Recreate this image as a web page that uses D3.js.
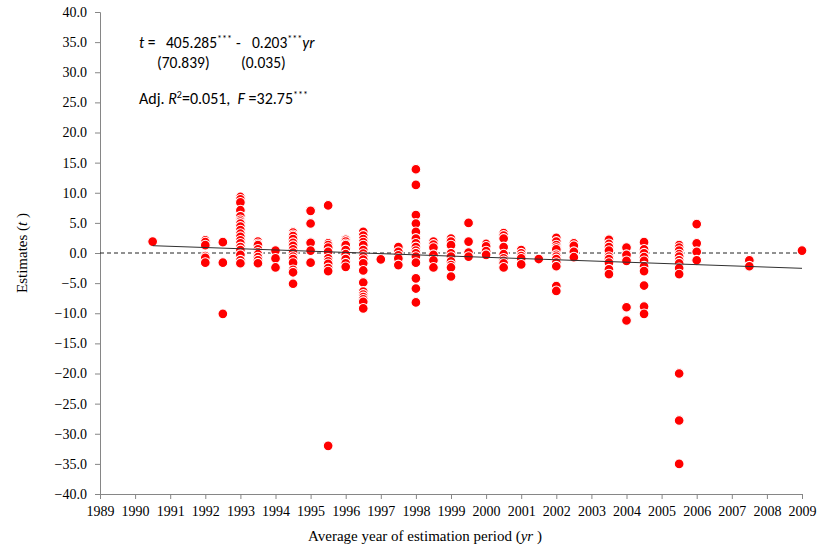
<!DOCTYPE html>
<html>
<head>
<meta charset="utf-8">
<script src="https://cdn.jsdelivr.net/npm/d3@7"></script>
<style>
  html, body { margin: 0; padding: 0; background: #fff; }
  svg { display: block; }
  .note text { white-space: pre; }
</style>
</head>
<body>
<svg id="chart" width="818" height="553"></svg>
<script>
// Estimates grouped by average year of the estimation period
const years = [1990.5, 1992, 1992.5, 1993, 1993.5, 1994, 1994.5, 1995, 1995.5, 1996,
  1996.5, 1997, 1997.5, 1998, 1998.5, 1999, 1999.5, 2000, 2000.5, 2001,
  2001.5, 2002, 2002.5, 2003.5, 2004, 2004.5, 2005.5, 2006, 2007.5, 2009];

const estimates = [
  [1.9],
  [2.1, 1.8, 1.3, -0.5, -0.8, -1.6],
  [1.8, -1.6, -10.1],
  [9.3, 8.9, 8.4, 7.1, 6.1, 5.5, 5.2, 4.9, 4.4, 3.8, 3.2, 2.7, 2.1, 1.6, 1.0, 0.5, -0.3, -1.2, -1.7],
  [1.9, 1.5, 1.3, 0.6, 0.1, -0.2, -0.7, -1.2, -1.7],
  [0.4, -0.9, -2.4],
  [3.4, 3.0, 2.8, 2.3, 1.7, 1.2, 0.6, 0.05, -0.6, -1.0, -1.6, -2.8, -3.2, -5.1],
  [7.0, 4.9, 1.7, 0.4, -1.6],
  [7.9, 1.6, 1.3, 0.9, 0.2, -0.9, -1.4, -1.8, -2.5, -3.0, -32.0],
  [2.2, 1.9, 1.5, 1.3, 0.5, -0.2, -1.0, -1.7, -2.3],
  [3.5, 2.9, 2.3, 1.8, 1.3, 0.5, -0.1, -0.6, -1.1, -1.7, -2.9, -4.9, -6.4, -6.9, -7.3, -7.7, -8.1, -9.2],
  [-1.05],
  [1.0, 0.2, -0.4, -0.9, -2.0],
  [13.9, 11.3, 6.3, 4.9, 3.5, 2.4, 1.6, 1.0, 0.4, -0.05, -0.6, -1.6, -4.2, -5.9, -8.2],
  [1.9, 1.4, 0.9, -0.3, -1.2, -2.4],
  [2.4, 1.9, 1.3, -0.05, -0.6, -1.4, -2.0, -2.4, -3.9],
  [5.0, 1.9, 0.05, -0.6],
  [1.5, 1.1, 0.3, -0.3],
  [3.3, 2.9, 2.4, 1.0, -0.2, -0.9, -1.3, -1.7, -2.4],
  [0.5, -0.05, -0.5, -0.9, -1.9],
  [-1.0],
  [2.5, 1.9, 1.3, 0.9, 0.6, -0.3, -0.6, -1.0, -1.6, -2.2, -5.5, -6.3],
  [1.6, 1.2, 0.2, -0.7],
  [2.2, 1.5, 1.0, 0.4, -0.6, -1.0, -1.6, -2.7, -3.5],
  [0.9, -0.3, -1.3, -9.0, -11.2],
  [1.8, 0.6, -0.05, -0.7, -1.3, -2.2, -3.0, -5.4, -8.9, -10.1],
  [1.3, 0.9, 0.4, -0.2, -0.6, -1.2, -1.7, -2.5, -3.5, -20.0, -27.8, -35.0],
  [4.8, 1.6, 0.2, -1.2],
  [-1.2, -2.2],
  [0.4]
];

// Fitted line: t = 405.285 - 0.203 yr
const lineYears = [1990.5, 2009];
const intercept = 405.285;
const slope = -0.203;

const xTicks = d3.range(1989, 2010, 1);
const yTicks = d3.range(-40, 41, 5);

const svg = d3.select("#chart");
const margin = { left: 100, right: 16, top: 12, bottom: 59 };
const W = 818, H = 553;

const x = d3.scaleLinear().domain([1989, 2009]).range([margin.left, W - margin.right]);
const y = d3.scaleLinear().domain([-40, 40]).range([H - margin.bottom, margin.top]);

const axisColor = "#868686";
const serif = "'Liberation Serif', 'Times New Roman', serif";

// Y axis
const yAxis = svg.append("g")
  .attr("transform", `translate(${margin.left},0)`)
  .call(d3.axisLeft(y).tickValues(yTicks).tickFormat(d3.format(".1f")).tickSize(5).tickPadding(8));
// X axis
const xAxis = svg.append("g")
  .attr("transform", `translate(0,${y(-40)})`)
  .call(d3.axisBottom(x).tickValues(xTicks).tickFormat(d3.format("d")).tickSize(5).tickPadding(4));

[yAxis, xAxis].forEach(g => {
  g.selectAll("path.domain").attr("stroke", axisColor).attr("stroke-width", 1);
  g.selectAll(".tick line").attr("stroke", axisColor);
  g.selectAll("text").attr("fill", "#000").style("font-family", serif).style("font-size", "14px");
});
xAxis.selectAll("text").attr("dy", "0.95em");

// Zero reference line
svg.append("line")
  .attr("x1", x(1989)).attr("x2", x(2009))
  .attr("y1", y(0)).attr("y2", y(0))
  .attr("stroke", "#222").attr("stroke-width", 1)
  .attr("stroke-dasharray", "4,3");

// Points
const pts = [];
years.forEach((yr, i) => estimates[i].forEach(v => pts.push({ yr, v })));

svg.append("g").selectAll("circle")
  .data(pts)
  .join("circle")
  .attr("cx", d => x(d.yr))
  .attr("cy", d => y(d.v))
  .attr("r", 4.9)
  .attr("fill", "#ff0000")
  .attr("stroke", "#ffffff")
  .attr("stroke-width", 1.1);

// Trend line
svg.append("line")
  .attr("x1", x(lineYears[0])).attr("y1", y(intercept + slope * lineYears[0]))
  .attr("x2", x(lineYears[1])).attr("y2", y(intercept + slope * lineYears[1]))
  .attr("stroke", "#303030").attr("stroke-width", 1);

// Axis titles
svg.append("text")
  .attr("x", 425).attr("y", 541)
  .attr("text-anchor", "middle")
  .style("font-family", serif).style("font-size", "15px")
  .html('Average year of estimation period (<tspan font-style="italic">yr</tspan> )');

svg.append("text")
  .attr("transform", `translate(27,${y(0)}) rotate(-90)`)
  .attr("text-anchor", "middle")
  .style("font-family", serif).style("font-size", "15px")
  .html('Estimates (<tspan font-style="italic">t</tspan> )');

// Regression annotation
const sans = "Carlito, Lato, 'Open Sans', sans-serif";
const note = svg.append("g").attr("class", "note")
  .style("font-family", sans).style("font-size", "15.5px").attr("fill", "#000");

note.append("text").attr("y", 48)
  .html('<tspan x="139" font-style="italic">t</tspan> =' +
        '<tspan x="166">405.285</tspan><tspan dy="-6" font-size="10px">***</tspan>' +
        '<tspan x="236" dy="6">-</tspan>' +
        '<tspan x="252">0.203</tspan><tspan dy="-6" font-size="10px">***</tspan>' +
        '<tspan dy="6" font-style="italic">yr</tspan>');
note.append("text").attr("y", 68)
  .html('<tspan x="157">(70.839)</tspan><tspan x="241">(0.035)</tspan>');
note.append("text").attr("y", 104).style("font-size", "16px")
  .html('<tspan x="139">Adj. </tspan><tspan font-style="italic">R</tspan><tspan dy="-6" font-size="10px">2</tspan><tspan dy="6">=0.051,  </tspan><tspan font-style="italic">F</tspan> =32.75<tspan dy="-6" font-size="10px">***</tspan>');
</script>
</body>
</html>
